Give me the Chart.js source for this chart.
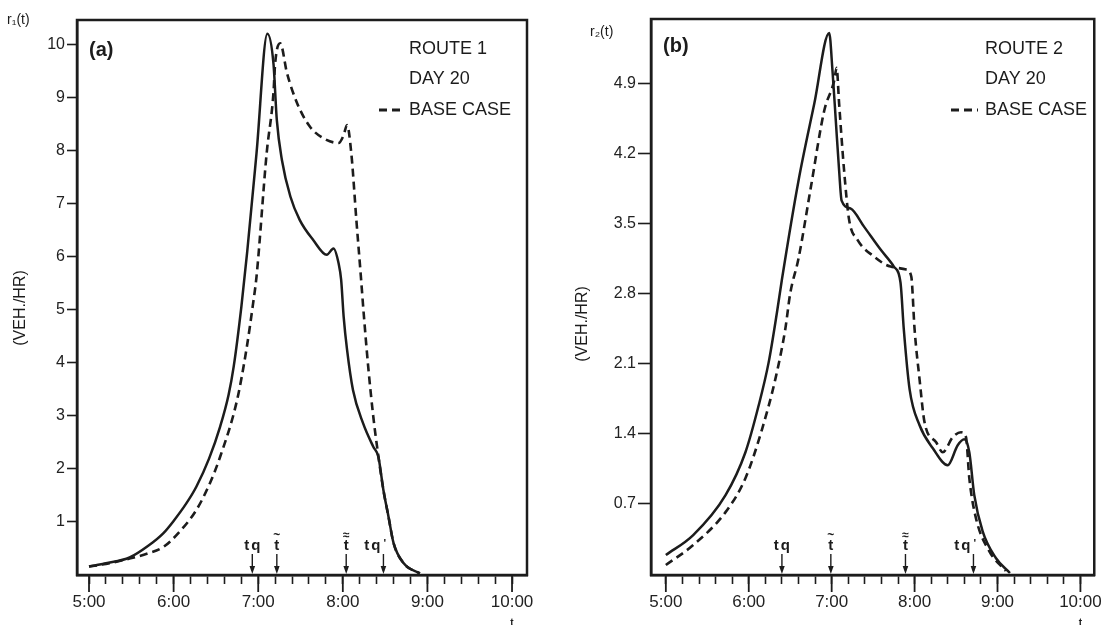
<!DOCTYPE html>
<html><head><meta charset="utf-8">
<script src="https://cdn.jsdelivr.net/npm/chart.js@4.4.1/dist/chart.umd.min.js"></script>
<style>
html,body{margin:0;padding:0;background:#fff;}
#wrap{position:relative;width:1110px;height:625px;overflow:hidden;background:#fff;}
.pane{position:absolute;top:0;width:555px;height:625px;}
</style></head><body>
<div id="wrap">
<div class="pane" style="left:0"><canvas id="ca" width="555" height="625"></canvas></div>
<div class="pane" style="left:555px"><canvas id="cb" width="555" height="625"></canvas></div>
</div>
<script>
// ---------- DATA ----------
// time in hours (5.0 = 5:00)
const route1Times = [5.00, 5.20, 5.48, 5.70, 5.88, 6.00, 6.15, 6.27, 6.42, 6.55, 6.65, 6.71, 6.80, 6.87, 6.98, 7.108, 7.18, 7.22, 7.28, 7.38, 7.49, 7.65, 7.81, 7.89, 7.95, 7.98, 8.01, 8.05, 8.12, 8.24, 8.36, 8.42, 8.48, 8.54, 8.60, 8.72, 8.91];
const route1Flow  = [0.16, 0.22, 0.33, 0.55, 0.79, 1.02, 1.35, 1.67, 2.20, 2.80, 3.40, 3.93, 5.05, 6.10, 7.96, 10.21, 9.65, 8.58, 7.83, 7.14, 6.70, 6.32, 6.04, 6.16, 5.88, 5.57, 4.87, 4.25, 3.49, 2.86, 2.42, 2.23, 1.60, 1.10, 0.60, 0.22, 0.03];
const base1Times  = [5.00, 5.20, 5.48, 5.70, 5.88, 6.05, 6.27, 6.42, 6.55, 6.75, 6.86, 6.94, 6.98, 7.10, 7.18, 7.20, 7.26, 7.34, 7.46, 7.61, 7.77, 7.95, 8.01, 8.05, 8.10, 8.16, 8.21, 8.25, 8.30, 8.36, 8.41, 8.48, 8.54, 8.60, 8.72, 8.91];
const base1Flow   = [0.16, 0.21, 0.31, 0.41, 0.53, 0.78, 1.23, 1.70, 2.23, 3.30, 4.25, 5.13, 5.63, 7.96, 9.09, 9.65, 10.03, 9.47, 8.90, 8.46, 8.24, 8.15, 8.30, 8.49, 7.96, 6.70, 5.70, 4.87, 3.93, 2.99, 2.36, 1.60, 1.10, 0.60, 0.22, 0.03];

const route2Times = [5.00, 5.33, 5.72, 5.96, 6.12, 6.24, 6.34, 6.40, 6.60, 6.79, 6.97, 7.01, 7.05, 7.09, 7.12, 7.23, 7.39, 7.59, 7.75, 7.83, 7.87, 7.94, 8.06, 8.22, 8.40, 8.52, 8.60, 8.66, 8.72, 8.82, 8.98, 9.15];
const route2Flow  = [0.18, 0.38, 0.78, 1.21, 1.68, 2.11, 2.61, 2.94, 3.93, 4.70, 5.41, 5.03, 4.53, 4.03, 3.73, 3.65, 3.47, 3.24, 3.07, 2.91, 2.44, 1.84, 1.48, 1.25, 1.08, 1.28, 1.34, 1.21, 0.78, 0.42, 0.15, 0.00];
const base2Times  = [5.00, 5.33, 5.72, 5.96, 6.16, 6.32, 6.44, 6.50, 6.60, 6.75, 6.91, 7.03, 7.06, 7.09, 7.15, 7.21, 7.31, 7.51, 7.71, 7.90, 7.96, 8.00, 8.06, 8.12, 8.26, 8.34, 8.46, 8.56, 8.62, 8.66, 8.74, 8.90, 9.10];
const base2Flow   = [0.08, 0.28, 0.61, 0.95, 1.44, 1.94, 2.44, 2.80, 3.15, 3.87, 4.63, 4.93, 5.06, 4.70, 4.03, 3.54, 3.34, 3.17, 3.07, 3.04, 2.97, 2.44, 1.94, 1.51, 1.31, 1.21, 1.36, 1.41, 1.36, 0.95, 0.55, 0.22, 0.02];

// ticks
const xTickValues = [5.0, 5.2, 5.4, 5.6, 5.8, 6.0, 6.2, 6.4, 6.6, 6.8, 7.0, 7.2, 7.4, 7.6, 7.8, 8.0, 8.2, 8.4, 8.6, 8.8, 9.0, 9.2, 9.4, 9.6, 9.8, 10.0];
const xMajorHours = [5, 6, 7, 8, 9, 10];
const xMajorLabels = ['5:00', '6:00', '7:00', '8:00', '9:00', '10:00'];
const yTicksA = [1, 2, 3, 4, 5, 6, 7, 8, 9, 10];
const yLabelsA = ['1', '2', '3', '4', '5', '6', '7', '8', '9', '10'];
const yTicksB = [0.7, 1.4, 2.1, 2.8, 3.5, 4.2, 4.9];
const yLabelsB = ['0.7', '1.4', '2.1', '2.8', '3.5', '4.2', '4.9'];

// event markers on the time axis
const markerNames = ['tq', 't~', 't≈', "tq'"];
const markersA = [6.93, 7.22, 8.04, 8.48];
const markersB = [6.40, 6.99, 7.89, 8.71];

const legendLines = ['DAY 20', 'BASE CASE'];

// ---------- RENDER ----------
const INK = '#1c1c1c';
const FONT = '"Liberation Sans", Arial, Helvetica, sans-serif';
Chart.defaults.font.family = FONT;
Chart.defaults.color = INK;

function pairs(xs, ys) { return xs.map((x, i) => ({ x: x, y: ys[i] })); }

function panelPlugin(p) {
  return {
    id: 'panel' + p.tag,
    afterDraw(chart) {
      const ctx = chart.ctx, a = chart.chartArea, xs = chart.scales.x;
      ctx.save();
      // frame
      ctx.strokeStyle = INK; ctx.lineWidth = 2.5;
      ctx.strokeRect(a.left, a.top, a.right - a.left, a.bottom - a.top);
      // long major ticks
      ctx.lineWidth = 1.8;
      xMajorHours.forEach(h => {
        const x = xs.getPixelForValue(h);
        ctx.beginPath(); ctx.moveTo(x, a.bottom); ctx.lineTo(x, a.bottom + 17); ctx.stroke();
      });
      // small 't' below last major label
      ctx.fillStyle = INK;
      ctx.font = 'bold 10px ' + FONT; ctx.textAlign = 'center'; ctx.textBaseline = 'alphabetic';
      ctx.fillText('t', xs.getPixelForValue(10), 626);

      // markers
      p.markers.forEach((v, i) => {
        const x = xs.getPixelForValue(v);
        const name = markerNames[i];
        ctx.strokeStyle = INK; ctx.lineWidth = 1.4;
        ctx.beginPath(); ctx.moveTo(x, a.bottom - 21); ctx.lineTo(x, a.bottom - 4); ctx.stroke();
        ctx.beginPath(); ctx.moveTo(x - 2.8, a.bottom - 9); ctx.lineTo(x + 2.8, a.bottom - 9); ctx.lineTo(x, a.bottom - 1); ctx.closePath(); ctx.fill();
        ctx.font = 'bold 15px ' + FONT; ctx.textBaseline = 'alphabetic';
        const by = a.bottom - 25;
        if (name === 'tq') {
          ctx.textAlign = 'center'; ctx.letterSpacing = '2px';
          ctx.fillText('tq', x + 1, by); ctx.letterSpacing = '0px';
        } else if (name === "tq'") {
          ctx.textAlign = 'right'; ctx.letterSpacing = '2px';
          ctx.fillText('tq', x - 1, by); ctx.letterSpacing = '0px';
          ctx.font = 'bold 11px ' + FONT; ctx.textAlign = 'left';
          ctx.fillText("'", x, by - 3);
        } else {
          ctx.textAlign = 'center';
          ctx.fillText('t', x, by);
          ctx.font = 'bold 12px ' + FONT;
          ctx.fillText(name === 't~' ? '~' : '≈', x, by - 11);
        }
      });

      // panel letter
      ctx.textAlign = 'left'; ctx.textBaseline = 'middle';
      ctx.font = 'bold 20px ' + FONT;
      ctx.fillText(p.letter, p.letterX, p.letterY);
      // legend block
      ctx.font = '18px ' + FONT;
      ctx.fillText(p.route, p.legX, 49);
      ctx.fillText(legendLines[0], p.legX, 79);
      ctx.fillText(legendLines[1], p.legX, 110);
      ctx.lineWidth = 3.2; ctx.setLineDash([8, 5]);
      ctx.beginPath(); ctx.moveTo(p.dashX0, 110); ctx.lineTo(p.dashX1, 110); ctx.stroke();
      ctx.setLineDash([]);
      // r(t) symbol
      ctx.font = '14px ' + FONT; ctx.textAlign = 'left';
      ctx.fillText(p.rLabel, p.rX, p.rY);
      // rotated unit label
      ctx.translate(p.unitX, p.unitY); ctx.rotate(-Math.PI / 2);
      ctx.font = '16px ' + FONT; ctx.textAlign = 'center'; ctx.textBaseline = 'middle';
      ctx.fillText('(VEH./HR)', 0, 0);
      ctx.restore();
    }
  };
}

function makeChart(id, p) {
  return new Chart(document.getElementById(id), {
    type: 'line',
    data: {
      datasets: [
        { label: 'BASE CASE', data: pairs(p.baseT, p.baseV), borderColor: INK, borderWidth: 2.6, borderDash: [8, 5], pointRadius: 0, cubicInterpolationMode: 'monotone', fill: false },
        { label: p.route, data: pairs(p.routeT, p.routeV), borderColor: INK, borderWidth: 2.5, pointRadius: 0, cubicInterpolationMode: 'monotone', fill: false }
      ]
    },
    options: {
      responsive: false, animation: false, devicePixelRatio: 1,
      layout: { padding: { top: p.padTop, right: p.padRight, bottom: 0, left: 0 } },
      plugins: { legend: { display: false }, tooltip: { enabled: false }, title: { display: false } },
      scales: {
        x: {
          type: 'linear', min: p.xMin, max: p.xMax,
          afterBuildTicks: s => { s.ticks = xTickValues.map(v => ({ value: v })); },
          afterFit: s => { s.height = 50; },
          grid: { drawOnChartArea: false, drawTicks: true, tickLength: 9, tickWidth: 1.6, tickColor: INK },
          border: { display: true, color: INK, width: 2.5 },
          ticks: {
            autoSkip: false, maxRotation: 0, minRotation: 0, padding: 8, color: '#222',
            font: { size: 17, family: FONT },
            callback: v => { const i = xMajorHours.indexOf(v); return i >= 0 ? xMajorLabels[i] : ''; }
          }
        },
        y: {
          type: 'linear', min: p.yMin, max: p.yMax,
          afterBuildTicks: s => { s.ticks = p.yTicks.map(v => ({ value: v })); },
          afterFit: s => { s.width = p.yWidth; },
          grid: { drawOnChartArea: false, drawTicks: true, tickLength: p.yTickLen, tickWidth: 1.6, tickColor: INK },
          border: { display: true, color: INK, width: 2.5 },
          ticks: {
            padding: 2, color: '#222', font: { size: 16, family: FONT },
            callback: v => { const i = p.yTicks.indexOf(v); return i >= 0 ? p.yLabels[i] : ''; }
          }
        }
      }
    },
    plugins: [panelPlugin(p)]
  });
}

makeChart('ca', {
  tag: 'A', routeT: route1Times, routeV: route1Flow, baseT: base1Times, baseV: base1Flow,
  route: 'ROUTE 1', letter: '(a)', letterX: 89, letterY: 50, legX: 409, dashX0: 379, dashX1: 404,
  rLabel: 'r\u2081(t)', rX: 7, rY: 20, unitX: 21, unitY: 308,
  markers: markersA, xMin: 4.858, xMax: 10.177, yMin: 0, yMax: 10.47,
  yTicks: yTicksA, yLabels: yLabelsA, yWidth: 77, yTickLen: 10, padTop: 20, padRight: 28
});
makeChart('cb', {
  tag: 'B', routeT: route2Times, routeV: route2Flow, baseT: base2Times, baseV: base2Flow,
  route: 'ROUTE 2', letter: '(b)', letterX: 108, letterY: 46, legX: 430, dashX0: 396, dashX1: 423,
  rLabel: 'r\u2082(t)', rX: 35, rY: 32, unitX: 28, unitY: 324,
  markers: markersB, xMin: 4.821, xMax: 10.167, yMin: -0.02, yMax: 5.55,
  yTicks: yTicksB, yLabels: yLabelsB, yWidth: 96, yTickLen: 13, padTop: 19, padRight: 10
});
</script>
</body></html>
